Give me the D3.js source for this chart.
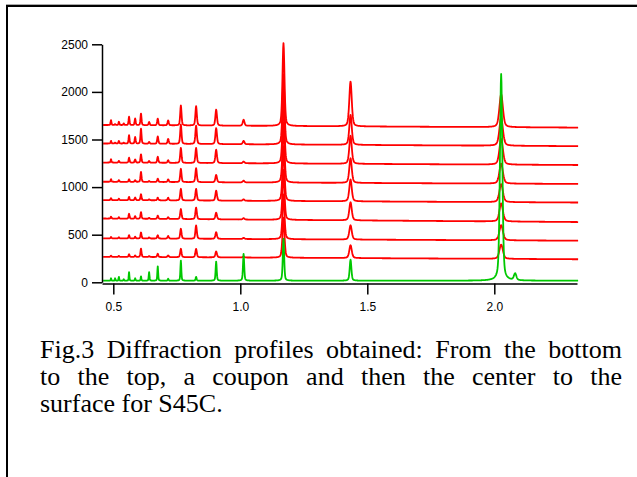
<!DOCTYPE html>
<html>
<head>
<meta charset="utf-8">
<script src="https://d3js.org/d3.v7.min.js"></script>
<style>
  html, body { margin: 0; padding: 0; background: #fff; }
  svg { display: block; }
</style>
</head>
<body>
<div id="container"></div>
<script>
// peak positions (d-spacing)
const peakD = [0.491, 0.507, 0.522, 0.541, 0.562, 0.586, 0.609, 0.641, 0.675, 0.716, 0.766, 0.826, 0.905, 1.013, 1.170, 1.434, 2.027]

// bottom profile (coupon), green
const couponHeights = [25, 25, 40, 15, 90, 25, 45, 90, 150, 20, 210, 40, 200, 280, 440, 220, 2170]
const couponExtraD = 2.082
const couponExtraHeight = 70
const couponBase = [17, 17]

// red profiles, bottom -> top (center to surface)
const redHeights = [
    [12, 0, 10, 0, 28, 15, 88, 10, 35, 18, 88, 88, 63, 10, 420, 135, 150],
    [15, 0, 12, 0, 35, 18, 63, 12, 35, 28, 105, 140, 70, 12, 470, 150, 160],
    [20, 0, 15, 0, 52, 28, 70, 10, 35, 18, 105, 122, 70, 15, 525, 190, 190],
    [20, 0, 15, 0, 35, 28, 63, 10, 28, 28, 122, 122, 105, 15, 575, 230, 190],
    [28, 0, 18, 0, 28, 18, 105, 10, 35, 28, 140, 147, 77, 18, 630, 260, 210],
    [35, 0, 18, 0, 52, 35, 88, 18, 63, 28, 158, 158, 140, 18, 680, 295, 270],
    [28, 10, 28, 10, 88, 70, 158, 18, 77, 52, 203, 193, 168, 35, 735, 315, 295],
    [52, 10, 35, 18, 88, 70, 122, 35, 70, 52, 210, 203, 168, 63, 870, 470, 345]
]
// background level at left and right ends of each red profile
const redBaseLeft = [268, 462, 670, 864, 1056, 1258, 1458, 1652]
const redBaseRight = [242, 437, 633, 838, 1033, 1232, 1430, 1625]

const yTicks = [0, 500, 1000, 1500, 2000, 2500]
const xTicks = [0.5, 1.0, 1.5, 2.0]

const caption = [
    "Fig.3 Diffraction profiles obtained: From the bottom",
    "to the top, a coupon and then the center to the",
    "surface for S45C."
]

const width = 637, height = 477
const dRange = [0.46, 2.33]

const svg = d3.select("#container").append("svg")
    .attr("width", width)
    .attr("height", height)

// frame
svg.append("line").attr("x1", 6).attr("x2", width).attr("y1", 4.5).attr("y2", 4.5)
    .attr("stroke", "#aaa").attr("stroke-width", 1)
svg.append("line").attr("x1", 6).attr("x2", width).attr("y1", 6).attr("y2", 6)
    .attr("stroke", "#000").attr("stroke-width", 2)
svg.append("line").attr("x1", 7).attr("x2", 7).attr("y1", 5).attr("y2", height)
    .attr("stroke", "#000").attr("stroke-width", 2)

const x = d3.scaleLinear().domain([0.4555, 2.3256]).range([102, 577])
const y = d3.scaleLinear().domain([0, 2500]).range([282.3, 44.3])

// pseudo-Voigt peak shape
function peak(d, c, h, w) {
    const fwhm = w * c
    const t = (d - c) / (fwhm / 2)
    const lor = 1 / (1 + t * t)
    const gau = Math.exp(-Math.LN2 * t * t)
    return h * (0.4 * lor + 0.6 * gau)
}

// sample grid: regular steps plus the peak centres so maxima are not missed
const grid = d3.range(dRange[0], dRange[1], 1 / (254 * 3)).concat(peakD, [couponExtraD, dRange[1]])
grid.sort(d3.ascending)

function profile(heights, baseL, baseR, w, extra) {
    return grid.map(d => {
        const f = (d - dRange[0]) / (dRange[1] - dRange[0])
        let v = baseL + (baseR - baseL) * f
        peakD.forEach((c, i) => { if (heights[i]) v += peak(d, c, heights[i], w) })
        if (extra) v += peak(d, extra[0], extra[1], w)
        return [d, v]
    })
}

const line = d3.line().x(d => x(d[0])).y(d => y(d[1]))

const plot = svg.append("g")

redHeights.forEach((h, i) => {
    plot.append("path")
        .datum(profile(h, redBaseLeft[i], redBaseRight[i], 0.008))
        .attr("fill", "none")
        .attr("stroke", "#ff0000")
        .attr("stroke-width", 1.8)
        .attr("stroke-linejoin", "round")
        .attr("d", line)
})

plot.append("path")
    .datum(profile(couponHeights, couponBase[0], couponBase[1], 0.0055, [couponExtraD, couponExtraHeight]))
    .attr("fill", "none")
    .attr("stroke", "#00c800")
    .attr("stroke-width", 1.8)
    .attr("stroke-linejoin", "round")
    .attr("d", line)

// axes
svg.append("g")
    .attr("transform", "translate(102,0)")
    .call(d3.axisLeft(y).tickValues(yTicks).tickSize(10).tickSizeOuter(0).tickPadding(4).tickFormat(d3.format("d")))
svg.append("g")
    .attr("transform", "translate(0,283.5)")
    .call(d3.axisBottom(x).tickValues(xTicks).tickSize(11).tickSizeOuter(0).tickPadding(8).tickFormat(d3.format(".1f")))

svg.selectAll(".domain, .tick line").attr("stroke", "#000").attr("stroke-width", 1.5)
svg.selectAll(".tick text")
    .attr("font-family", "'Liberation Sans', Arial, sans-serif")
    .attr("font-size", 12)
    .attr("fill", "#000")

// caption, justified like the source page
const capLeft = 40, capRight = 622
const capG = svg.append("g")
    .style("font-family", "'Liberation Serif', 'Times New Roman', serif")
    .style("font-size", "26px")
    .attr("fill", "#000")

caption.forEach((txt, i) => {
    const t = capG.append("text")
        .attr("x", capLeft)
        .attr("y", 358 + i * 27)
        .text(txt)
    if (i < caption.length - 1) {
        const gaps = txt.split(" ").length - 1
        const extra = (capRight - capLeft - t.node().getComputedTextLength()) / gaps
        t.attr("word-spacing", extra)
    }
})
</script>
</body>
</html>
